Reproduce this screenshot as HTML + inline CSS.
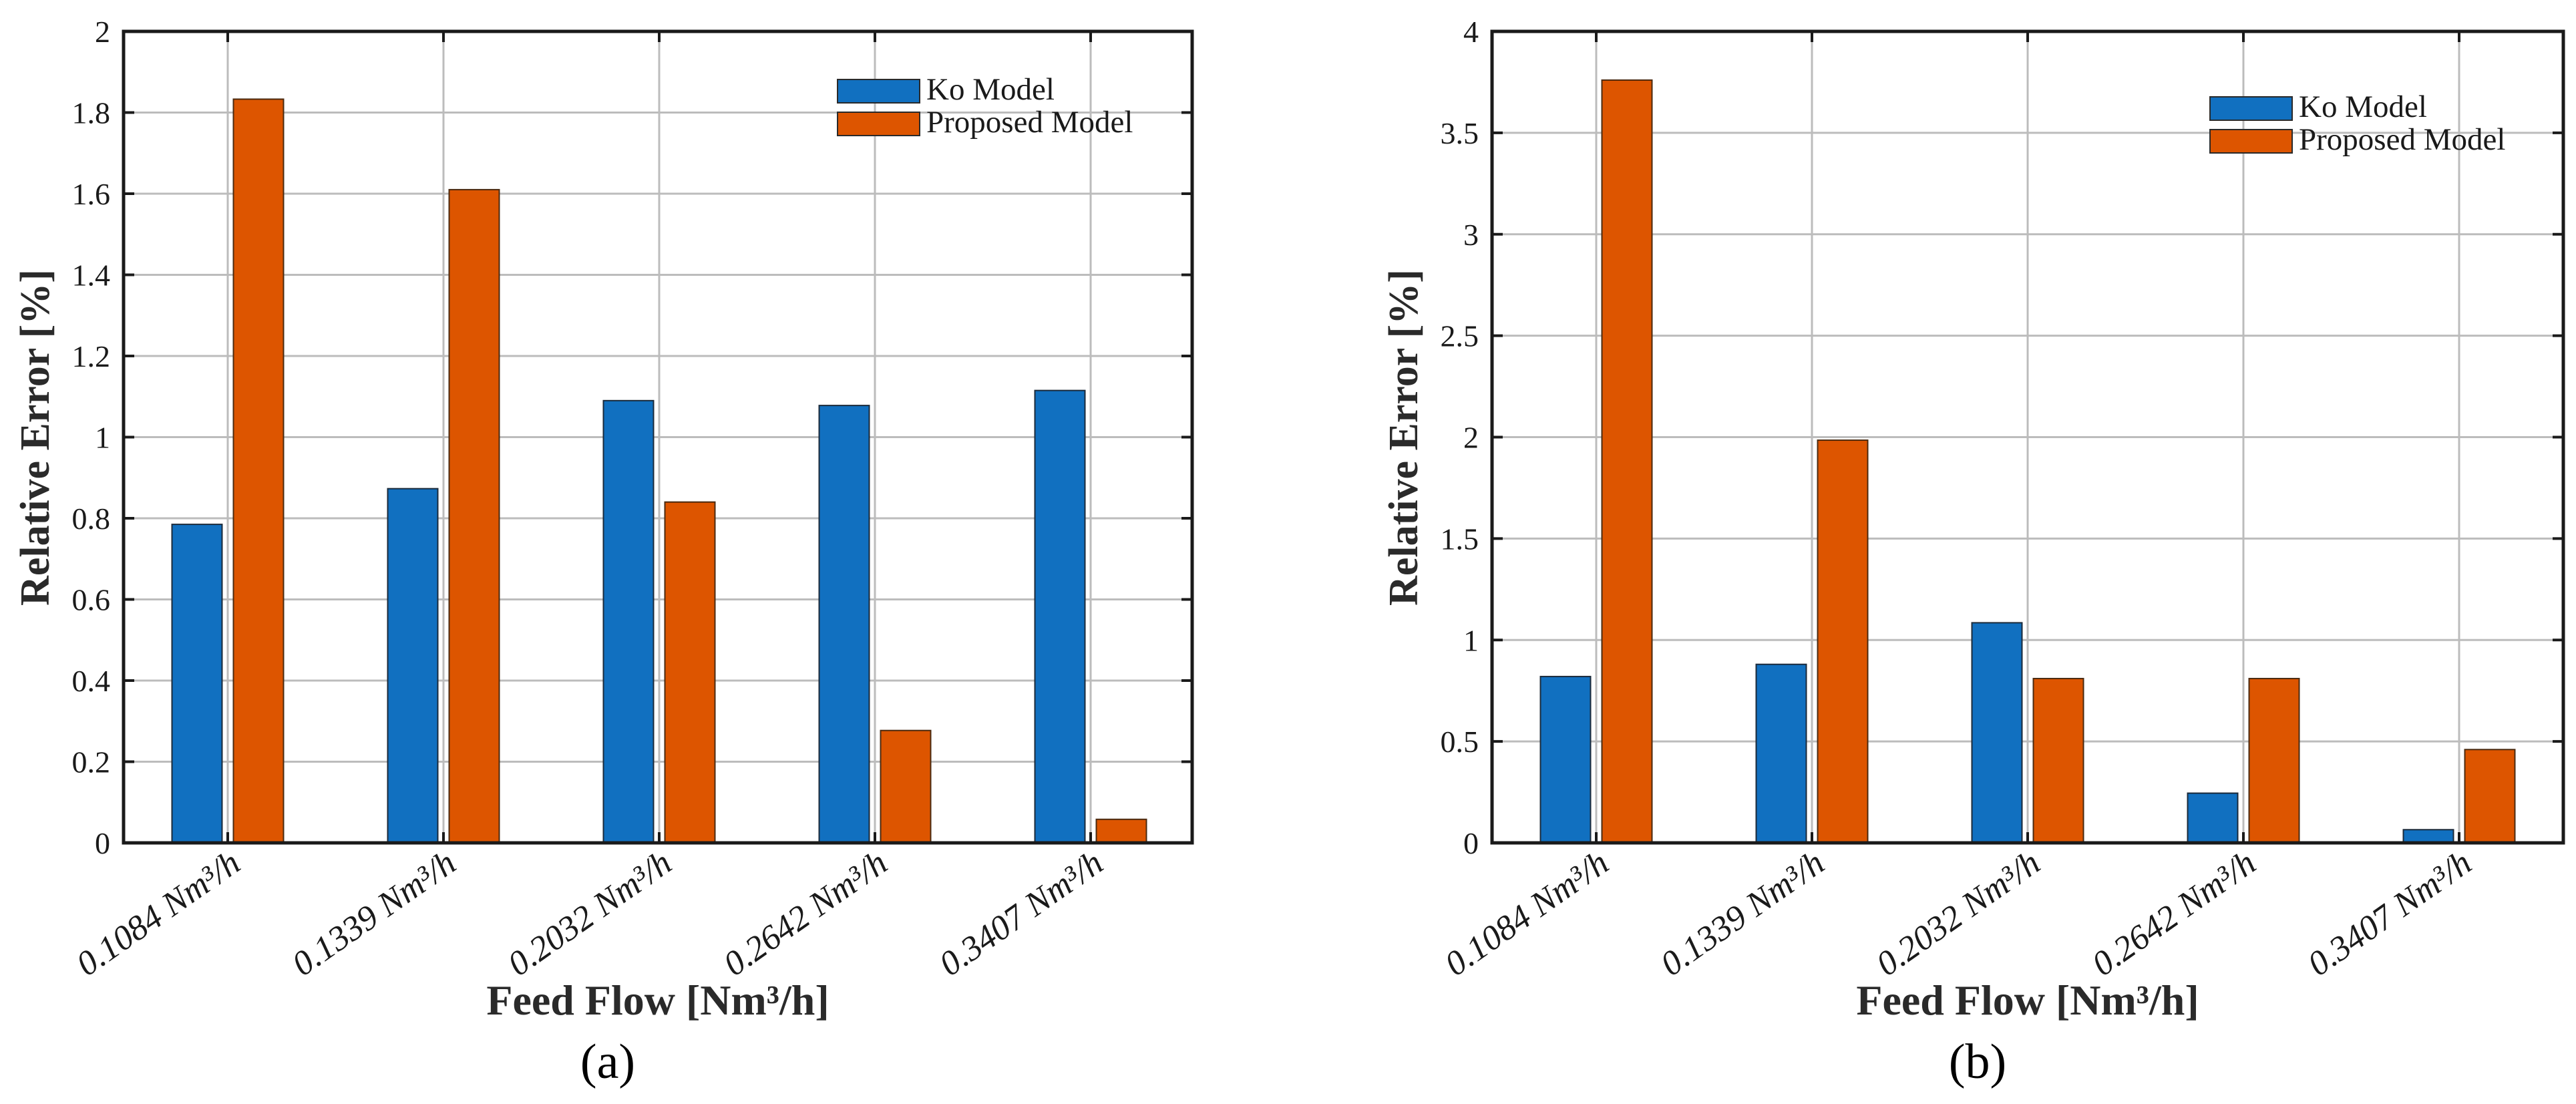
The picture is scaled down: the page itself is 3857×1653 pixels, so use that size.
<!DOCTYPE html>
<html><head><meta charset="utf-8"><style>
html,body{margin:0;padding:0;background:#fff;}
svg{display:block;font-family:"Liberation Serif",serif;}
</style></head><body>
<svg id="fig" width="3857" height="1653" viewBox="0 0 3857 1653" xmlns="http://www.w3.org/2000/svg"></svg>
<script>
const categories = ["0.1084 Nm³/h","0.1339 Nm³/h","0.2032 Nm³/h","0.2642 Nm³/h","0.3407 Nm³/h"];
const koA = [0.785, 0.873, 1.09, 1.078, 1.115];
const propA = [1.833, 1.61, 0.84, 0.277, 0.058];
const koB = [0.82, 0.88, 1.085, 0.245, 0.065];
const propB = [3.76, 1.985, 0.81, 0.81, 0.46];
const ticksA = [0,0.2,0.4,0.6,0.8,1,1.2,1.4,1.6,1.8,2];
const tickLabelsA = ["0","0.2","0.4","0.6","0.8","1","1.2","1.4","1.6","1.8","2"];
const ticksB = [0,0.5,1,1.5,2,2.5,3,3.5,4];
const tickLabelsB = ["0","0.5","1","1.5","2","2.5","3","3.5","4"];
const seriesNames = ["Ko Model","Proposed Model"];

const NS = "http://www.w3.org/2000/svg";
const svg = document.getElementById('fig');
function mk(tag, attrs, parent){
  const e = document.createElementNS(NS, tag);
  for (const k in attrs) e.setAttribute(k, attrs[k]);
  (parent||svg).appendChild(e);
  return e;
}

function drawChart(opt){
  const g = mk('g', {});
  
  
  const L = opt.left, R = opt.right, T = 47, B = 1262;
  const spacing = 323, off = 156;
  const ymax = opt.ticks[opt.ticks.length-1];
  const y = v => B - (v / ymax) * (B - T);
  const x = i => L + off + i * spacing;

  opt.ticks.forEach((t) => {
    if (t === 0 || t === ymax) return;
    const gl = mk('line', {x1:L, x2:R, y1:y(t), y2:y(t), stroke:'#bcbcbc', 'stroke-width':3}, g);
    
    
  });
  categories.forEach((c, i) => {
    const gl = mk('line', {x1:x(i), x2:x(i), y1:T, y2:B, stroke:'#bcbcbc', 'stroke-width':3}, g);
    
    
  });

  const bw = 75;
  categories.forEach((c, i) => {
    const b1 = mk('rect', {x:x(i)-46-bw/2, y:y(opt.ko[i]), width:bw, height:B-y(opt.ko[i]), fill:'#1170c0', stroke:'#1b2a3a', 'stroke-width':2}, g);
    
    
    const b2 = mk('rect', {x:x(i)+46-bw/2, y:y(opt.prop[i]), width:bw, height:B-y(opt.prop[i]), fill:'#dd5500', stroke:'#4a2a10', 'stroke-width':2}, g);
    
    
  });

  const box = mk('rect', {x:L, y:T, width:R-L, height:B-T, fill:'none', stroke:'#1a1a1a', 'stroke-width':5}, g);
  
  

  opt.ticks.forEach((t, k) => {
    mk('line', {x1:L, x2:L+16, y1:y(t), y2:y(t), stroke:'#1a1a1a', 'stroke-width':4}, g);
    mk('line', {x1:R-16, x2:R, y1:y(t), y2:y(t), stroke:'#1a1a1a', 'stroke-width':4}, g);
    const tl = mk('text', {x:L-20, y:y(t)+16, 'text-anchor':'end', 'font-size':46, fill:'#1a1a1a'}, g);
    tl.textContent = opt.tickLabels[k];
    
    
  });

  categories.forEach((c, i) => {
    mk('line', {x1:x(i), x2:x(i), y1:B-16, y2:B, stroke:'#1a1a1a', 'stroke-width':4}, g);
    mk('line', {x1:x(i), x2:x(i), y1:T, y2:T+16, stroke:'#1a1a1a', 'stroke-width':4}, g);
    const tx = x(i) + 22, ty = 1300;
    const tl = mk('text', {x:tx, y:ty, 'text-anchor':'end', 'font-size':52, 'font-style':'italic', fill:'#1a1a1a', transform:'rotate(-35 '+tx+' '+ty+')'}, g);
    tl.textContent = c;
    
    
  });

  const yl = mk('text', {x:0, y:0, 'text-anchor':'middle', 'font-size':62, 'font-weight':'bold', fill:'#2a2a2a', transform:'translate('+(L-112)+' 655) rotate(-90)'}, g);
  yl.textContent = 'Relative Error [%]';
  
  
  const xl = mk('text', {x:(L+R)/2, y:1519, 'text-anchor':'middle', 'font-size':64, 'font-weight':'bold', fill:'#2a2a2a'}, g);
  xl.textContent = 'Feed Flow [Nm³/h]';
  
  
  const cap = mk('text', {x:(L+R)/2 - 75, y:1614, 'text-anchor':'middle', 'font-size':74, fill:'#000'}, g);
  cap.textContent = '(' + opt.letter + ')';
  
  

  const lg = mk('g', {}, g);
  
  
  const lx = opt.legX, ly = opt.legY;
  const colors = ['#1170c0', '#dd5500'];
  seriesNames.forEach((s, k) => {
    const p = mk('rect', {x:lx, y:ly + k*49, width:123, height:35, fill:colors[k], stroke:'#2a2a2a', 'stroke-width':2}, lg);
    
    
    const t = mk('text', {x:lx+133, y:ly + k*49 + 30, 'font-size':47, fill:'#1a1a1a'}, lg);
    t.textContent = s;
    
    
  });
}

drawChart({name:'chart-a', left:185, right:1785, ko:koA, prop:propA, ticks:ticksA, tickLabels:tickLabelsA, letter:'a', legX:1254, legY:119});
drawChart({name:'chart-b', left:2234, right:3838, ko:koB, prop:propB, ticks:ticksB, tickLabels:tickLabelsB, letter:'b', legX:3309, legY:145});
</script>
</body></html>
